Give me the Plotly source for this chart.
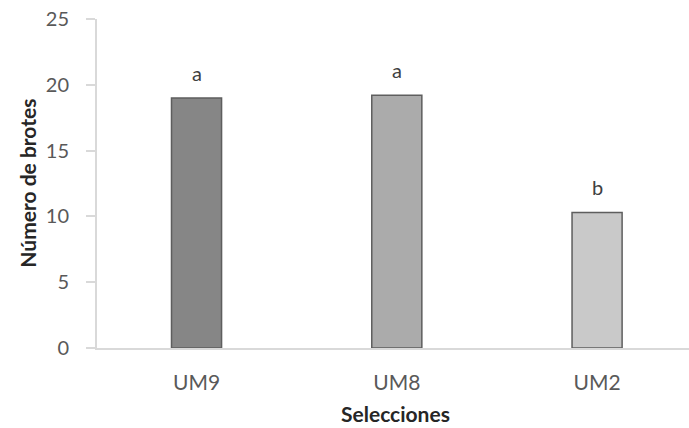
import plotly.graph_objects as go

# Data
selecciones = ["UM9", "UM8", "UM2"]
brotes = [19.0, 19.2, 10.3]
letras = ["a", "a", "b"]
colores = ["#868686", "#ababab", "#c9c9c9"]

FONT = "Lato, Calibri, Carlito, sans-serif"
TICK_COLOR = "#595959"
AXIS_COLOR = "#d9d9d9"

fig = go.Figure()
fig.add_trace(go.Bar(
    x=list(range(len(selecciones))),
    y=brotes,
    width=0.25,
    marker=dict(color=colores, line=dict(color="#5e5e5e", width=1.5)),
    hoverinfo="skip",
))

# Significance letters above each bar
for i, (v, t) in enumerate(zip(brotes, letras)):
    fig.add_annotation(
        x=i, y=v, text=t, showarrow=False, xanchor="center", yanchor="bottom",
        yshift=11, font=dict(family=FONT, size=20, color="#404040"),
    )

# Axis titles
fig.add_annotation(
    xref="paper", yref="paper", x=-0.118, y=0.5, text="<b>Número de brotes</b>",
    textangle=-90, showarrow=False, xanchor="center", yanchor="middle",
    font=dict(family=FONT, size=21, color="#262626"),
)
fig.add_annotation(
    xref="paper", yref="paper", x=0.505, y=-0.2, text="<b>Selecciones</b>",
    showarrow=False, xanchor="center", yanchor="middle",
    font=dict(family=FONT, size=21, color="#262626"),
)

fig.update_layout(
    width=689, height=428,
    margin=dict(l=97, r=0, t=19, b=80),
    paper_bgcolor="white", plot_bgcolor="white",
    showlegend=False,
    xaxis=dict(
        range=[-0.497, 2.459],
        tickmode="array", tickvals=list(range(len(selecciones))), ticktext=selecciones,
        showline=True, linecolor=AXIS_COLOR, linewidth=2,
        ticks="", showgrid=False, zeroline=False,
        tickfont=dict(family=FONT, size=21, color=TICK_COLOR),
        ticklabelstandoff=15,
    ),
    yaxis=dict(
        range=[0, 25], tick0=0, dtick=5,
        showline=True, linecolor=AXIS_COLOR, linewidth=2,
        ticks="outside", ticklen=9, tickwidth=2, tickcolor=AXIS_COLOR,
        showgrid=False, zeroline=False,
        tickfont=dict(family=FONT, size=20, color=TICK_COLOR),
        ticklabelstandoff=13,
    ),
)

fig.write_html("out.html")
